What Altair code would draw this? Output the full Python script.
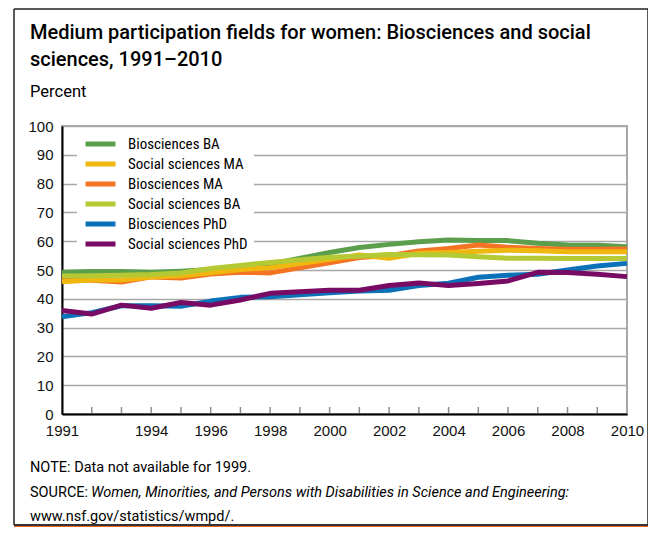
import altair as alt
import pandas as pd

# ---------------- data ----------------
years = [1991, 1992, 1993, 1994, 1995, 1996, 1997, 1998,
         2000, 2001, 2002, 2003, 2004, 2005, 2006, 2007, 2008, 2009, 2010]

bio_ba = [49.2, 49.5, 49.5, 49.2, 49.6, 50.2, 51.0, 52.0,
          56.1, 57.8, 58.9, 59.8, 60.4, 60.2, 60.2, 59.3, 58.7, 58.6, 58.1]
soc_ma = [45.9, 46.5, 46.5, 47.6, 48.0, 49.0, 50.2, 50.8,
          53.7, 55.2, 54.1, 55.8, 56.1, 56.5, 56.9, 56.7, 56.3, 56.3, 56.3]
bio_ma = [46.8, 46.4, 45.8, 47.6, 47.2, 48.6, 49.2, 49.0,
          52.5, 54.3, 55.0, 56.6, 57.5, 58.7, 57.9, 57.5, 57.2, 57.2, 57.3]
soc_ba = [47.9, 48.0, 48.2, 48.4, 49.0, 50.5, 51.6, 52.6,
          54.4, 54.8, 55.4, 55.3, 55.2, 54.6, 54.1, 54.1, 54.0, 54.0, 54.0]
bio_phd = [33.8, 35.2, 37.6, 37.6, 37.4, 39.2, 40.5, 40.7,
           42.1, 42.7, 43.0, 44.6, 45.4, 47.5, 48.2, 48.5, 50.0, 51.4, 52.3]
soc_phd = [35.9, 34.7, 37.8, 36.7, 38.7, 37.8, 39.6, 41.9,
           43.0, 43.0, 44.6, 45.5, 44.6, 45.3, 46.2, 49.2, 49.1, 48.5, 47.7]

legend_order = ["Biosciences BA", "Social sciences MA", "Biosciences MA",
                "Social sciences BA", "Biosciences PhD", "Social sciences PhD"]
legend_colors = ["#5b9f4d", "#efb70f", "#f37524", "#b5c934", "#0b72b9", "#780b63"]

series = {
    "Biosciences BA": bio_ba,
    "Biosciences MA": bio_ma,
    "Social sciences MA": soc_ma,
    "Social sciences BA": soc_ba,
    "Biosciences PhD": bio_phd,
    "Social sciences PhD": soc_phd,
}

label_years = [1991, 1994, 1996, 1998, 2000, 2002, 2004, 2006, 2008, 2010]
tick_years = list(range(1992, 2010))
y_ticks = list(range(0, 101, 10))

title_line1 = "Medium participation fields for women: Biosciences and social"
title_line2 = "sciences, 1991\u20132010"
subtitle = "Percent"
note = "NOTE: Data not available for 1999."
source_lead = "SOURCE:"
source_title = "Women, Minorities, and Persons with Disabilities in Science and Engineering:"
source_url = "www.nsf.gov/statistics/wmpd/."

# ---------------- build ----------------
rows = []
for name, vals in series.items():
    for yr, v in zip(years, vals):
        rows.append({"Year": yr, "Percent": v, "Series": name})
df = pd.DataFrame(rows)

FC = "Roboto Condensed, Liberation Sans Narrow, DejaVu Sans Condensed, sans-serif"
FR = "Roboto, Liberation Sans, sans-serif"
FL = "Liberation Sans, Arial, sans-serif"

W, H = 565, 288
x_scale = alt.Scale(domain=[1991, 2010], nice=False, zero=False)
y_scale = alt.Scale(domain=[0, 100], nice=False)

lines = alt.Chart(df).mark_line(strokeWidth=5, strokeJoin="round").encode(
    x=alt.X("Year:Q", scale=x_scale,
            axis=alt.Axis(values=label_years, format="d", title=None, grid=False,
                          ticks=False, domainColor="black", domainWidth=2,
                          labelFont=FL, labelFontSize=15, labelColor="#111111",
                          labelPadding=9, labelFlush=False)),
    y=alt.Y("Percent:Q", scale=y_scale,
            axis=alt.Axis(values=y_ticks, title=None, grid=True, ticks=False,
                          domainColor="black", domainWidth=2,
                          gridColor="#a8a8a8", gridWidth=1.5,
                          labelFont=FL, labelFontSize=15, labelColor="#111111",
                          labelPadding=9)),
    color=alt.Color("Series:N",
                    scale=alt.Scale(domain=legend_order, range=legend_colors),
                    legend=alt.Legend(title=None, orient="none", legendX=15, legendY=4,
                                      symbolType="stroke", symbolSize=900,
                                      symbolStrokeWidth=5, labelFont=FC,
                                      labelFontSize=15, labelColor="black",
                                      clipHeight=16, rowPadding=4, labelOffset=10,
                                      fillColor="white", padding=6)),
)

ticks = alt.Chart(pd.DataFrame({"Year": tick_years})).mark_rule(
    color="#8c8c8c", strokeWidth=1.5
).encode(
    x=alt.X("Year:Q", scale=x_scale),
    y=alt.value(H - 1),
    y2=alt.value(H - 7),
)

one = pd.DataFrame({"a": [0]})

def rule(x, x2, y, y2, color="#222222", w=1.5):
    return alt.Chart(one).mark_rule(color=color, strokeWidth=w).encode(
        x=alt.value(x), x2=alt.value(x2), y=alt.value(y), y2=alt.value(y2))

frame = [
    rule(-48, -48, -117, 399),
    rule(-48, 586, -117, -117),
    rule(586, 586, -117, 399),
    rule(-48, 586, 399, 399, color="#333333", w=2),
    rule(-48, 586, 401.5, 401.5, color="#f26522", w=3),
]

def txt(s, x, y, font=FR, size=14.5, italic=False, weight="normal"):
    return alt.Chart(pd.DataFrame({"t": [s]})).mark_text(
        font=font, fontSize=size, color="black", align="left", baseline="alphabetic",
        fontStyle="italic" if italic else "normal",
        fontWeight=weight,
    ).encode(text="t:N", x=alt.value(x), y=alt.value(y))

titles = [
    txt(title_line1, -32, -87, font=FR, size=20, weight=500),
    txt(title_line2, -32, -60, font=FR, size=20, weight=500),
    txt(subtitle, -32, -29, font=FR, size=16.5),
]

notes = [
    txt(note, -32, 346),
    txt(source_lead, -32, 371),
    txt(source_title, 29, 371, italic=True),
    txt(source_url, -32, 395),
]

chart = alt.layer(ticks, lines, *frame, *titles, *notes).properties(
    width=W, height=H,
    autosize=alt.AutoSizeParams(type="none"),
    padding={"left": 54, "top": 118, "right": 21, "bottom": 113},
).configure_view(stroke="#a8a8a8", strokeWidth=2)

chart.save("out.html", embed_options={"renderer": "svg", "actions": False})
